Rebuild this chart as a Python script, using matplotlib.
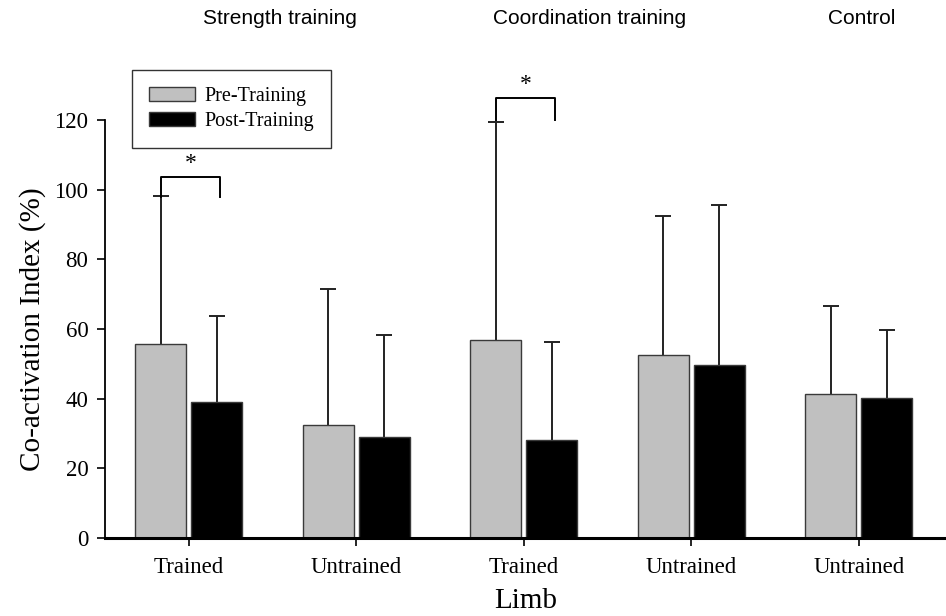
import matplotlib
matplotlib.use("Agg")
import matplotlib.pyplot as plt
from matplotlib.patches import Patch
import numpy as np

# 데이터
limbs = ["Trained", "Untrained", "Trained", "Untrained", "Untrained"]
groups = ["Strength training", "Coordination training", "Control"]
pre_mean = [55.7, 32.3, 56.8, 52.5, 41.3]
pre_err_top = [98.1, 71.6, 119.5, 92.5, 66.7]
post_mean = [39.0, 29.0, 28.2, 49.7, 40.3]
post_err_top = [63.8, 58.3, 56.3, 95.6, 59.8]
sig_idx = [0, 2]
sig_top = [103.6, 126.2]
sig_leg = [98.0, 120.0]

SERIF = "Liberation Serif"
SANS = "Liberation Sans"

fig = plt.figure(figsize=(9.46, 6.16), dpi=100)
ax = fig.add_axes([0.111, 0.1266, 0.889, 0.6786])

x = np.arange(len(limbs))
w = 0.304
off = 0.167

pre = np.array(pre_mean)
post = np.array(post_mean)
ax.bar(x - off, pre, w, color="#c0c0c0", edgecolor="#3a3a3a", linewidth=1.0, zorder=2)
ax.bar(x + off, post, w, color="black", edgecolor="#3a3a3a", linewidth=1.0, zorder=2)

# 위쪽 에러바만 (아래 cap 숨김)
for xs, m, top in [(x - off, pre, pre_err_top), (x + off, post, post_err_top)]:
    eb = ax.errorbar(xs, m, yerr=[np.zeros_like(m), np.array(top) - m],
                     fmt="none", ecolor="#222222", elinewidth=1.4, capsize=5.5,
                     capthick=1.4, clip_on=False, zorder=1)
    eb[1][0].set_visible(False)
    for art in eb[1]:
        art.set_clip_on(False)
    for art in eb[2]:
        art.set_clip_on(False)

# 유의성 표시
for i, top, leg in zip(sig_idx, sig_top, sig_leg):
    ax.plot([i - off, i - off, i + off + 0.02, i + off + 0.02], [leg, top, top, leg],
            color="black", lw=1.4, clip_on=False)
    ax.text(i + 0.01, top + 4.0, "*", ha="center", va="center",
            fontsize=17, family=SERIF, clip_on=False)

ax.set_xlim(-0.5, 4.52)
ax.set_ylim(0, 120)
ax.set_yticks(range(0, 121, 20))
ax.set_xticks(x)
ax.set_xticklabels(limbs)
for lab in ax.get_xticklabels() + ax.get_yticklabels():
    lab.set_family(SERIF)
    lab.set_fontsize(16.5)
ax.tick_params(axis="both", direction="out", length=6, width=1.2, color="black")
ax.tick_params(axis="x", pad=8)
ax.tick_params(axis="y", pad=6)

ax.spines["top"].set_visible(False)
ax.spines["right"].set_visible(False)
ax.spines["left"].set_linewidth(1.3)
ax.spines["bottom"].set_linewidth(2.2)

ax.set_ylabel("Co-activation Index (%)", family=SERIF, fontsize=21, labelpad=6)
ax.set_xlabel("Limb", family=SERIF, fontsize=21, labelpad=7)

# 그룹 제목
for name, gx in zip(groups, [280, 590, 862]):
    fig.text(gx / 946, 1 - 18 / 616, name, ha="center", va="center",
             family=SANS, fontsize=15)

handles = [Patch(facecolor="#c0c0c0", edgecolor="#3a3a3a", label="Pre-Training"),
           Patch(facecolor="black", edgecolor="#3a3a3a", label="Post-Training")]
leg = fig.legend(handles=handles, loc="upper left",
                 bbox_to_anchor=(132 / 946, 1 - 70 / 616),
                 prop={"family": SERIF, "size": 14.5}, frameon=True, fancybox=False,
                 borderaxespad=0, handlelength=2.3, handleheight=0.7,
                 labelspacing=0.3, borderpad=0.85, handletextpad=0.45)
leg.get_frame().set_edgecolor("black")
leg.get_frame().set_linewidth(1.0)

fig.savefig("out.png", dpi=100)
